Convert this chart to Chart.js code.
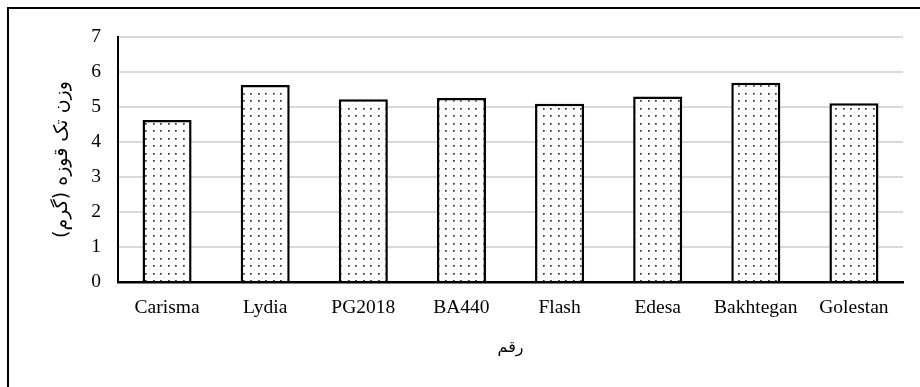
<!DOCTYPE html>
<html>
<head>
<meta charset="utf-8">
<script src="https://cdn.jsdelivr.net/npm/chart.js@4/dist/chart.umd.min.js"></script>
<style>
  html, body { margin: 0; padding: 0; background: #fff; }
  #wrap { position: relative; width: 920px; height: 387px; overflow: hidden; }
  canvas { position: absolute; left: 0; top: 0; }
</style>
</head>
<body>
<div id="wrap"><canvas id="c" width="920" height="387"></canvas></div>
<script>
const categories = ["Carisma", "Lydia", "PG2018", "BA440", "Flash", "Edesa", "Bakhtegan", "Golestan"];
const weights = [4.63, 5.63, 5.22, 5.26, 5.09, 5.30, 5.69, 5.11];
const yTicks = [0, 1, 2, 3, 4, 5, 6, 7];
const yTitle = "وزن تک قوزه (گرم)";
const xTitle = "رقم";

const canvas = document.getElementById('c');
const ctx = canvas.getContext('2d');

// dotted fill pattern (~7.5px grid)
const tile = document.createElement('canvas');
tile.width = 15; tile.height = 15;
const tctx = tile.getContext('2d');
tctx.fillStyle = '#ffffff';
tctx.fillRect(0, 0, 15, 15);
tctx.fillStyle = '#333333';
[[3, 3], [10, 3], [3, 10], [10, 10]].forEach(([x, y]) => tctx.fillRect(x, y, 1.7, 1.7));
tctx.fillStyle = '#e4e4e4';
[[7, 7], [14, 7], [7, 14], [14, 14]].forEach(([x, y]) => tctx.fillRect(x, y, 1, 1));
const dotPattern = ctx.createPattern(tile, 'repeat');

const outerBorder = {
  id: 'outerBorder',
  beforeDraw(chart) {
    const c = chart.ctx;
    c.save();
    c.fillStyle = '#fff';
    c.fillRect(0, 0, chart.width, chart.height);
    c.strokeStyle = '#000';
    c.lineWidth = 2;
    c.beginPath();
    c.moveTo(8, 400);
    c.lineTo(8, 8);
    c.lineTo(930, 8);
    c.stroke();
    c.restore();
  }
};

new Chart(ctx, {
  type: 'bar',
  data: {
    labels: categories,
    datasets: [{
      data: weights,
      backgroundColor: dotPattern,
      borderColor: '#000',
      borderWidth: 2.5,
      borderSkipped: 'start',
      barPercentage: 0.5,
      categoryPercentage: 1.0
    }]
  },
  options: {
    responsive: false,
    animation: false,
    devicePixelRatio: 1,
    layout: { padding: { left: 0, right: 17, top: 37, bottom: 0 } },
    plugins: {
      legend: { display: false },
      tooltip: { enabled: false }
    },
    scales: {
      x: {
        grid: { display: false, drawTicks: false },
        border: { display: true, color: '#000', width: 2.5 },
        ticks: {
          color: '#000',
          padding: 14,
          font: { family: '"Liberation Serif", "Times New Roman", serif', size: 19.5 },
          maxRotation: 0, autoSkip: false
        },
        title: {
          display: true,
          text: xTitle,
          color: '#000',
          font: { family: '"DejaVu Sans", sans-serif', size: 16 },
          padding: { top: 0, bottom: 30 }
        },
        afterFit(scale) { scale.height = 105; }
      },
      y: {
        min: 0, max: 7,
        afterBuildTicks(scale) { scale.ticks = yTicks.map(v => ({ value: v })); },
        grid: { color: '#d9d9d9', lineWidth: 2, drawTicks: false },
        border: { display: true, color: '#000', width: 2 },
        ticks: {
          color: '#000',
          padding: 17,
          font: { family: '"Liberation Serif", "Times New Roman", serif', size: 19.5 }
        },
        title: {
          display: true,
          text: yTitle,
          color: '#000',
          font: { family: '"DejaVu Sans", sans-serif', size: 19 },
          padding: { top: 51, bottom: 0 }
        },
        afterFit(scale) { scale.width = 118; }
      }
    }
  },
  plugins: [outerBorder]
});
</script>
</body>
</html>
